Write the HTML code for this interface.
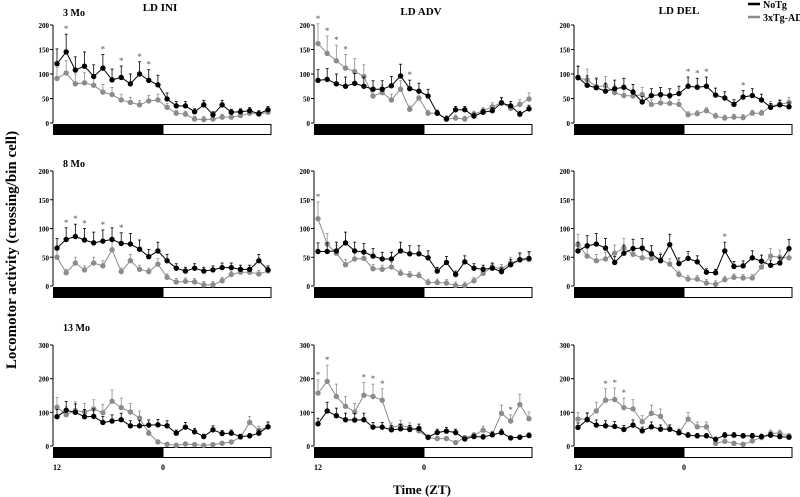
<!DOCTYPE html>
<html><head><meta charset="utf-8"><style>
html,body{margin:0;padding:0;background:#fff;}
svg{display:block;font-family:"Liberation Serif",serif;}
</style></head><body>
<svg id="chart" width="800" height="497" viewBox="0 0 800 497" xmlns="http://www.w3.org/2000/svg">
<text x="0" y="0" transform="translate(16,250) rotate(-90)" text-anchor="middle" font-size="15" font-weight="bold">Locomotor activity (crossing/bin cell)</text>
<text x="422" y="494" text-anchor="middle" font-size="13" font-weight="bold">Time (ZT)</text>
<text x="160" y="11" text-anchor="middle" font-size="11" font-weight="bold">LD INI</text>
<text x="421" y="15" text-anchor="middle" font-size="11" font-weight="bold">LD ADV</text>
<text x="679" y="14" text-anchor="middle" font-size="11" font-weight="bold">LD DEL</text>
<g>
<line x1="748" y1="4" x2="760" y2="4" stroke="#000" stroke-width="2.5"/>
<text x="763" y="8" font-size="10" font-weight="bold">NoTg</text>
<line x1="748" y1="17" x2="760" y2="17" stroke="#8c8c8c" stroke-width="2.5"/>
<text x="763" y="21" font-size="10" font-weight="bold">3xTg-AD</text>
</g>
<text x="63" y="16" font-size="10" font-weight="bold">3 Mo</text>
<text x="63" y="167" font-size="10" font-weight="bold">8 Mo</text>
<text x="63" y="331" font-size="10" font-weight="bold">13 Mo</text>
</svg>
<script>
const rowMax=[200,200,300];
const rowTicks=[[0,50,100,150,200],[0,50,100,150,200],[0,100,200,300]];
const xLabels=["12","0"];
const noTg=[
[121,145,108,116,95,112,88,93,80,100,87,78,49,35,35,23,37,17,37,22,23,25,19,27],
[87,89,80,75,81,75,69,69,76,96,70,65,55,20,8,27,27,14,22,25,41,35,18,29],
[93,77,72,65,70,73,63,43,56,58,56,60,75,73,75,57,51,38,53,56,47,32,37,33],
[66,81,86,80,75,78,81,74,73,64,51,61,44,31,26,31,26,28,32,32,29,29,44,28],
[60,60,61,75,61,59,52,47,47,61,56,56,49,26,41,20,42,31,29,31,25,37,46,48],
[61,70,73,66,41,57,65,66,56,44,72,39,48,42,24,23,61,34,35,49,43,36,40,65],
[87,106,100,87,88,70,74,78,60,60,62,63,60,38,56,42,28,48,37,38,28,30,38,57],
[66,104,90,78,77,78,56,56,48,51,49,52,26,40,44,40,21,28,27,33,40,24,26,31],
[55,78,62,60,58,49,62,45,57,50,50,40,32,30,30,20,32,32,30,30,28,32,28,26]];
const tg=[
[91,102,80,82,77,63,58,47,42,37,45,47,32,20,18,8,7,8,12,12,15,20,18,22],
[162,142,127,112,105,95,55,62,47,69,28,51,20,20,8,10,8,18,25,33,42,30,38,49],
[92,88,74,76,62,56,55,58,38,41,40,38,17,19,25,14,10,12,11,20,20,35,38,42],
[50,23,40,28,40,35,63,25,44,29,25,38,15,7,8,7,2,2,9,20,24,24,21,26],
[117,73,57,37,47,48,30,29,33,22,19,18,6,6,5,1,1,9,22,33,30,40,45,46],
[72,52,44,47,57,66,55,49,48,46,38,20,12,12,5,3,11,15,14,14,33,52,50,49],
[115,93,105,101,110,99,133,114,101,83,38,12,5,2,6,4,2,4,8,12,26,70,47,57],
[157,192,147,118,101,151,147,136,55,61,55,45,25,22,22,10,25,32,47,35,97,74,123,81],
[80,80,104,136,138,114,110,72,97,88,50,38,80,57,57,8,14,8,5,15,25,38,38,30]];
const starsNoTg=[[1,5,7,9,10],[10],[12,13,14,18],[1,2,3,5,7],[],[16],[],[],[]];
const starsTg=[[],[0,1,2,3],[],[],[0],[],[],[0,1,5,6,7,21],[3,4,5]];

const NS="http://www.w3.org/2000/svg";
const svg=document.getElementById('chart');
const colX=[53,314,574], rowY0=[123,286,446], rowYTop=[25,171,345];
const plotW=218, barH=11;
function mk(tag,attrs,parent){const e=document.createElementNS(NS,tag);for(const k in attrs)e.setAttribute(k,attrs[k]);(parent||svg).appendChild(e);return e;}
for(let r=0;r<3;r++){for(let c=0;c<3;c++){
  const p=r*3+c, x0=colX[c], y0=rowY0[r], yT=rowYTop[r], mx=rowMax[r];
  const g=mk('g',{});
  
  
  const ys=v=>y0-(v/mx)*(y0-yT);
  const xs=i=>x0+4+i*(plotW-7)/23;
  const ax=mk('line',{x1:x0,y1:yT,x2:x0,y2:y0,stroke:'#000','stroke-width':1},g);
  
  
  rowTicks[r].forEach(t=>{
    mk('line',{x1:x0-3,y1:ys(t),x2:x0,y2:ys(t),stroke:'#000'},g);
    const tx=mk('text',{x:x0-4,y:ys(t)+3,'text-anchor':'end','font-size':7,'font-weight':'bold'},g);
    tx.textContent=t;
    
    
  });
  const dark=mk('rect',{x:x0,y:y0+1,width:110,height:barH,fill:'#000'},g);
  
  
  const light=mk('rect',{x:x0+110,y:y0+1.5,width:plotW-110,height:barH-1,fill:'#fff',stroke:'#000','stroke-width':1},g);
  
  
  if(r===2){[0,12].forEach((i,k)=>{const t=mk('text',{x:x0+4+(k?110-4:0),y:470,'text-anchor':'middle','font-size':8,'font-weight':'bold'},g);t.textContent=xLabels[k];
    
    });}
  [[tg[p],'#8c8c8c',starsTg[p],'series-3xtg'],[noTg[p],'#000',starsNoTg[p],'series-notg']].forEach(([d,col,st,nm])=>{
    const sg=mk('g',{},g);
    
    
    d.forEach((v,i)=>{const e=Math.max(6,v*0.25);mk('line',{x1:xs(i),y1:ys(v),x2:xs(i),y2:ys(v+e),stroke:col,'stroke-width':0.8},sg);mk('line',{x1:xs(i)-1.5,y1:ys(v+e),x2:xs(i)+1.5,y2:ys(v+e),stroke:col,'stroke-width':0.8},sg);});
    const pl=mk('polyline',{points:d.map((v,i)=>xs(i)+','+ys(v)).join(' '),fill:'none',stroke:col,'stroke-width':1},sg);
    
    
    d.forEach((v,i)=>{const pt=mk('circle',{cx:xs(i),cy:ys(v),r:2.7,fill:col},sg);
      
      });
    st.forEach(i=>{const v=d[i],e=Math.max(6,v*0.25);const s=mk('text',{x:xs(i),y:ys(v+e)-2,'text-anchor':'middle','font-size':9,fill:'#555'},sg);s.textContent='*';
      
      });
  });
}}
</script>
</body></html>
